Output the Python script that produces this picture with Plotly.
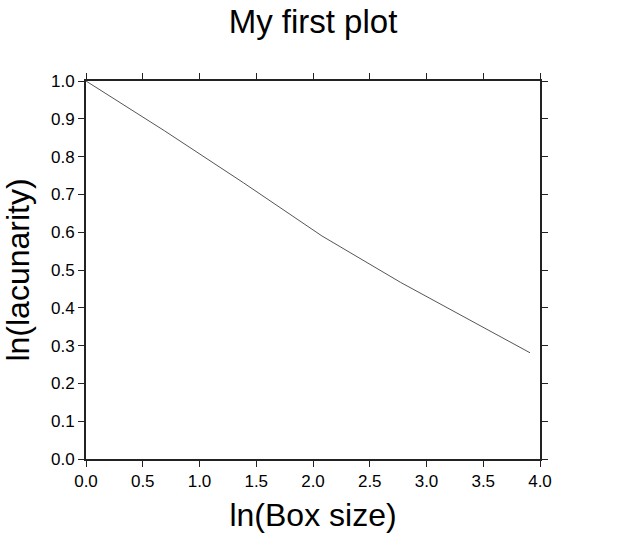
import plotly.graph_objects as go

# Data
ln_box_size = [0.0, 0.693, 1.386, 2.079, 2.773, 3.466, 3.912]
ln_lacunarity = [1.0, 0.868, 0.731, 0.590, 0.467, 0.354, 0.281]

x_ticks = [0.0, 0.5, 1.0, 1.5, 2.0, 2.5, 3.0, 3.5, 4.0]
y_ticks = [0.0, 0.1, 0.2, 0.3, 0.4, 0.5, 0.6, 0.7, 0.8, 0.9, 1.0]

FONT = "Liberation Sans, Arial, Helvetica, sans-serif"
W, H = 640, 539

fig = go.Figure()
fig.add_trace(go.Scatter(
    x=ln_box_size, y=ln_lacunarity, mode="lines",
    line=dict(color="#555555", width=1),
    showlegend=False, hoverinfo="skip",
))

axis_common = dict(
    showgrid=False, zeroline=False, automargin=False,
    showline=True, linecolor="#222222", linewidth=2,
    ticks="outside", ticklen=6, tickwidth=1, tickcolor="#222222",
    mirror="ticks",
    tickfont=dict(family=FONT, size=17, color="black"),
)

fig.update_layout(
    width=W, height=H,
    margin=dict(l=86, r=100, t=81, b=80),
    paper_bgcolor="white", plot_bgcolor="white",
    font=dict(family=FONT, color="black"),
    title=dict(text="My first plot", x=313 / W, xanchor="center",
               y=1 - 21 / H, yanchor="middle", yref="container",
               font=dict(family=FONT, size=33, color="black")),
    xaxis=dict(range=[0, 4.0], tickvals=x_ticks,
               ticktext=[f"{v:.1f}" for v in x_ticks],
               title=dict(text="ln(Box size)", font=dict(family=FONT, size=32, color="black"),
                          standoff=13),
               **axis_common),
    yaxis=dict(range=[0, 1.0], tickvals=y_ticks,
               ticktext=[f"{v:.1f}" for v in y_ticks],
               title=dict(text="ln(lacunarity)", font=dict(family=FONT, size=32, color="black"),
                          standoff=12),
               **axis_common),
)

fig.write_html("out.html", config={"displayModeBar": False},
               post_script="document.body.style.margin='0px';")
